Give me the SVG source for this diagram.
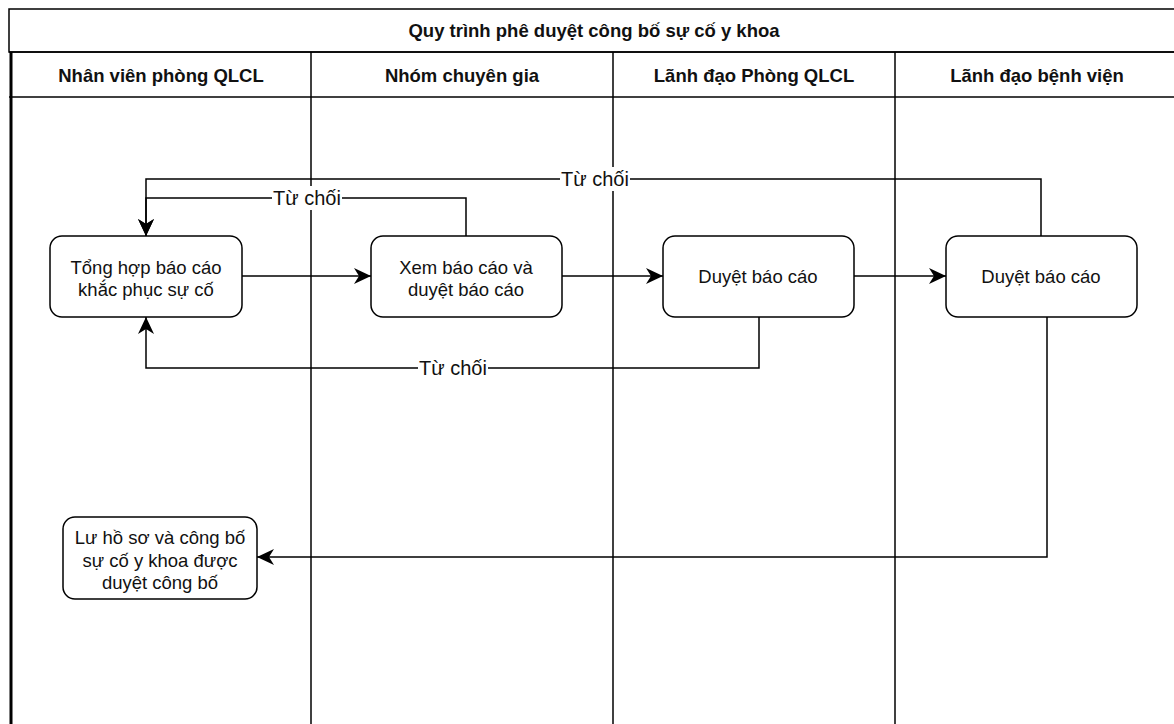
<svg xmlns="http://www.w3.org/2000/svg" width="1174" height="724" viewBox="0 0 1174 724">
  <style>
    .frame { fill: #ffffff; stroke: #000000; stroke-width: 1.5; }
    .lane { fill: none; stroke: #000000; stroke-width: 1.5; }
    .node rect { fill: #ffffff; stroke: #000000; stroke-width: 1.5; }
    .hdr { font-family: "Liberation Sans", Arial, sans-serif; font-size: 18.5px; font-weight: bold; fill: #111111; text-anchor: middle; }
    .txt { font-family: "Liberation Sans", Arial, sans-serif; font-size: 18.5px; fill: #111111; text-anchor: middle; }
    .edge { fill: none; stroke: #000000; stroke-width: 1.5; }
    .lbl-bg { fill: #ffffff; }
    .lbl { font-family: "Liberation Sans", Arial, sans-serif; font-size: 20px; fill: #111111; text-anchor: middle; }
  </style>
  <defs>
    <marker id="arrow" markerUnits="userSpaceOnUse" markerWidth="20" markerHeight="18" refX="17" refY="8" orient="auto">
      <path d="M0,0 L17,8 L0,16 L5,8 Z" fill="#000000"/>
    </marker>
  </defs>

  <rect width="1174" height="724" fill="#ffffff"/>

  <!-- pool: title band, lane headers, lane separators -->
  <g id="pool">
    <rect class="frame" x="9" y="9" width="1170" height="43"/>
    <text class="hdr" x="594" y="37">Quy trình phê duyệt công bố sự cố y khoa</text>
    <line class="lane" x1="9" y1="97" x2="1179" y2="97"/>
    <line class="lane" x1="9" y1="52" x2="1179" y2="52"/>
    <line x1="11" y1="52" x2="11" y2="724" stroke="#000000" stroke-width="3"/>
    <line class="lane" x1="311" y1="52" x2="311" y2="724"/>
    <line class="lane" x1="613" y1="52" x2="613" y2="724"/>
    <line class="lane" x1="895" y1="52" x2="895" y2="724"/>
    <text class="hdr" x="161" y="82">Nhân viên phòng QLCL</text>
    <text class="hdr" x="462" y="82">Nhóm chuyên gia</text>
    <text class="hdr" x="754" y="82">Lãnh đạo Phòng QLCL</text>
    <text class="hdr" x="1037" y="82">Lãnh đạo bệnh viện</text>
  </g>

  <!-- connectors -->
  <g id="connectors">
    <line class="edge" x1="242" y1="276" x2="371" y2="276" marker-end="url(#arrow)"/>
    <line class="edge" x1="562" y1="276" x2="663" y2="276" marker-end="url(#arrow)"/>
    <line class="edge" x1="854" y1="276" x2="946" y2="276" marker-end="url(#arrow)"/>
    <!-- rejections back to the summary step -->
    <polyline class="edge" points="466,236 466,198 146,198 146,236" marker-end="url(#arrow)"/>
    <polyline class="edge" points="1041,236 1041,179 146,179 146,236" marker-end="url(#arrow)"/>
    <polyline class="edge" points="759,316 759,368 146,368 146,317" marker-end="url(#arrow)"/>
    <!-- approval to archive -->
    <polyline class="edge" points="1047,316 1047,557 257,557" marker-end="url(#arrow)"/>

    <rect class="lbl-bg" x="272" y="186" width="70" height="24"/>
    <text class="lbl" x="307" y="205">Từ chối</text>
    <rect class="lbl-bg" x="560" y="167" width="70" height="24"/>
    <text class="lbl" x="595" y="186">Từ chối</text>
    <rect class="lbl-bg" x="418" y="356" width="70" height="24"/>
    <text class="lbl" x="453" y="375">Từ chối</text>
  </g>

  <!-- process steps -->
  <g id="node-tong-hop" class="node">
    <rect x="50" y="236" width="192" height="81" rx="12"/>
    <text class="txt" x="146" y="274">Tổng hợp báo cáo</text>
    <text class="txt" x="146" y="296">khắc phục sự cố</text>
  </g>
  <g id="node-xem-duyet" class="node">
    <rect x="371" y="236" width="191" height="81" rx="12"/>
    <text class="txt" x="466" y="274">Xem báo cáo và</text>
    <text class="txt" x="466" y="296">duyệt báo cáo</text>
  </g>
  <g id="node-duyet-qlcl" class="node">
    <rect x="663" y="236" width="191" height="81" rx="12"/>
    <text class="txt" x="758" y="283">Duyệt báo cáo</text>
  </g>
  <g id="node-duyet-bv" class="node">
    <rect x="946" y="236" width="191" height="81" rx="12"/>
    <text class="txt" x="1041" y="283">Duyệt báo cáo</text>
  </g>
  <g id="node-luu-ho-so" class="node">
    <rect x="63" y="517" width="194" height="82" rx="12"/>
    <text class="txt" x="160" y="544">Lư hồ sơ và công bố</text>
    <text class="txt" x="160" y="567">sự cố y khoa được</text>
    <text class="txt" x="160" y="589">duyệt công bố</text>
  </g>
</svg>
